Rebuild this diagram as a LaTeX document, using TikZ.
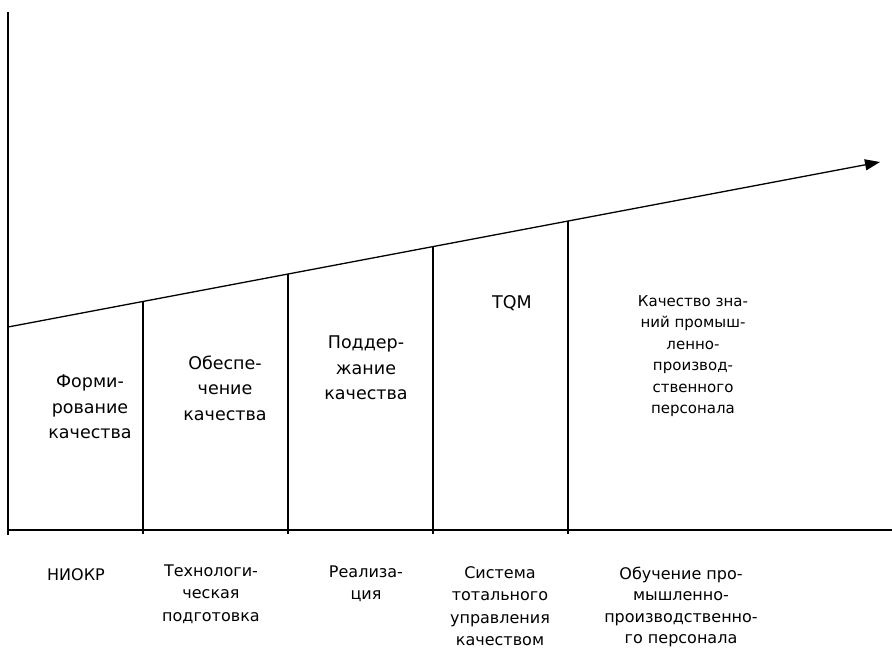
\documentclass[tikz,border=0pt]{standalone}
\usepackage{fontspec}
\setmainfont{DejaVu Sans}
\usetikzlibrary{arrows.meta}
\begin{document}
\begin{tikzpicture}[x=1pt,y=-1pt,
  ln/.style={line width=1.3pt, draw=black},
  big/.style={align=center, inner sep=0pt, font=\fontsize{17.5}{25.5}\selectfont},
  mid/.style={align=center, inner sep=0pt, font=\fontsize{15}{21.5}\selectfont},
  low/.style={align=center, inner sep=0pt, font=\fontsize{16}{22.5}\selectfont}]
\useasboundingbox (0,0) rectangle (892,649);
% axes
\coordinate (ytop) at (8,12);
\coordinate (ybot) at (8,535);
\coordinate (b0) at (8,530);
\coordinate (bend) at (892,530);
\coordinate (s0) at (8,327);
\coordinate (s5) at (880,162);
\coordinate (s1) at (143,301.5);
\coordinate (s2) at (288,274);
\coordinate (s3) at (433,246.6);
\coordinate (s4) at (568,221);
\coordinate (t1) at (143,534);
\coordinate (t2) at (288,534);
\coordinate (t3) at (433,534);
\coordinate (t4) at (568,534);
\draw[ln] (ytop) -- (ybot);
\draw[ln] (b0) -- (bend);
\draw[ln, -{Triangle[length=15pt,width=11pt]}] (s0) -- (s5);
\draw[ln] (s1) -- (t1);
\draw[ln] (s2) -- (t2);
\draw[ln] (s3) -- (t3);
\draw[ln] (s4) -- (t4);
% upper labels
\node[big] (f) at (90,407) {Форми-\\рование\\качества};
\node[big] (o) at (225,388) {Обеспе-\\чение\\качества};
\node[big] (p) at (366,368) {Поддер-\\жание\\качества};
\node[big] (tqm) at (512,303) {TQM};
\node[mid] (k) at (693,356) {Качество зна-\\ний промыш-\\ленно-\\производ-\\ственного\\персонала};
% lower labels
\node[low] (n) at (76,575) {НИОКР};
\node[low] (tp) at (211,594) {Технологи-\\ческая\\подготовка};
\node[low] (r) at (366,584) {Реализа-\\ция};
\node[low] (s) at (500,606) {Система\\тотального\\управления\\качеством};
\node[low, font=\fontsize{16}{21.5}\selectfont] (ob) at (681,607) {Обучение про-\\мышленно-\\производственно-\\го персонала};
\end{tikzpicture}
\end{document}
